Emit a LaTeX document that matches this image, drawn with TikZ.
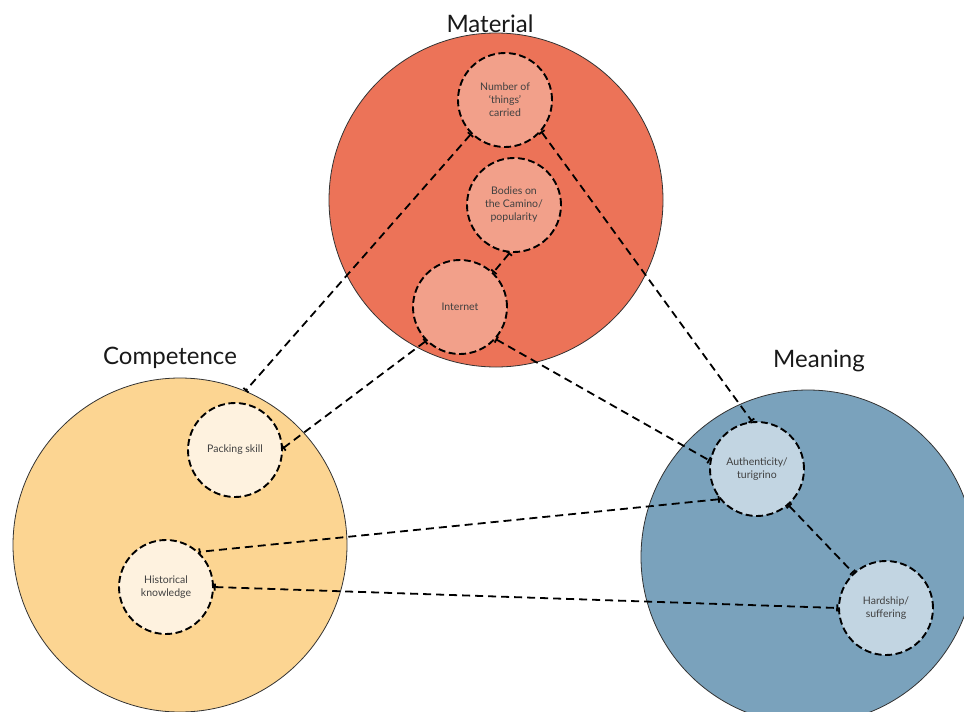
\documentclass[tikz,border=0pt]{standalone}
\usepackage{fontspec}
\setmainfont{Lato}
\usepackage{tikz}
\usetikzlibrary{arrows.meta}

\definecolor{matfill}{HTML}{EC7358}
\definecolor{matsmall}{HTML}{F2A08A}
\definecolor{compfill}{HTML}{FCD592}
\definecolor{compsmall}{HTML}{FEF2DF}
\definecolor{meanfill}{HTML}{7AA2BC}
\definecolor{meansmall}{HTML}{C2D5E2}
\definecolor{txtgrey}{HTML}{404040}

\begin{document}
\begin{tikzpicture}[x=1pt, y=-1pt,
  bigcirc/.style={circle, draw=black!80, line width=0.8pt, minimum size=334pt, inner sep=0pt},
  smallcirc/.style={circle, draw=black, line width=1.9pt, dash pattern=on 7pt off 3.5pt,
    minimum size=94pt, inner sep=0pt, align=center, text=txtgrey,
    font=\fontsize{10.5}{13}\selectfont},
  heading/.style={font=\fontsize{24}{28}\selectfont, text=black!90},
  link/.style={line width=1.8pt, dash pattern=on 8pt off 5pt, {Bar[width=7pt]}-{Bar[width=7pt]}}]
  \useasboundingbox (0,0) rectangle (964,712);

  % the three big circles
  \node[bigcirc, fill=matfill] (mat) at (496,200) {};
  \node[bigcirc, fill=compfill] (comp) at (180,545) {};
  \node[bigcirc, fill=meanfill] (mean) at (808,557) {};

  \node[heading] (matlabel) at (490,24) {Material};
  \node[heading] (complabel) at (170,358) {Competence};
  \node[heading] (meanlabel) at (819,361) {Meaning};

  % material elements
  \node[smallcirc, fill=matsmall] (things) at (505,100) {Number of\\‘things’\\carried};
  \node[smallcirc, fill=matsmall] (bodies) at (514,205) {Bodies on\\the Camino/\\popularity};
  \node[smallcirc, fill=matsmall] (inet) at (460,307) {Internet};

  % competence elements
  \node[smallcirc, fill=compsmall] (packing) at (235,450) {Packing skill};
  \node[smallcirc, fill=compsmall] (history) at (166,587) {Historical\\knowledge};

  % meaning elements
  \node[smallcirc, fill=meansmall] (auth) at (757,469) {Authenticity/\\turigrino};
  \node[smallcirc, fill=meansmall] (hard) at (886,608) {Hardship/\\suffering};

  % links
  \draw[link] (things.225) -- (comp.67.8);
  \draw[link] (things.319) -- (auth.96);
  \draw[link] (bodies.265) -- (inet.46);
  \draw[link] (inet.225) -- (packing.2);
  \draw[link] (inet.318) -- (auth.170);
  \draw[link] (auth.219) -- (history.47);
  \draw[link] (auth.311) -- (hard.133);
  \draw[link] (history.0) -- (hard.180);
\end{tikzpicture}
\end{document}
